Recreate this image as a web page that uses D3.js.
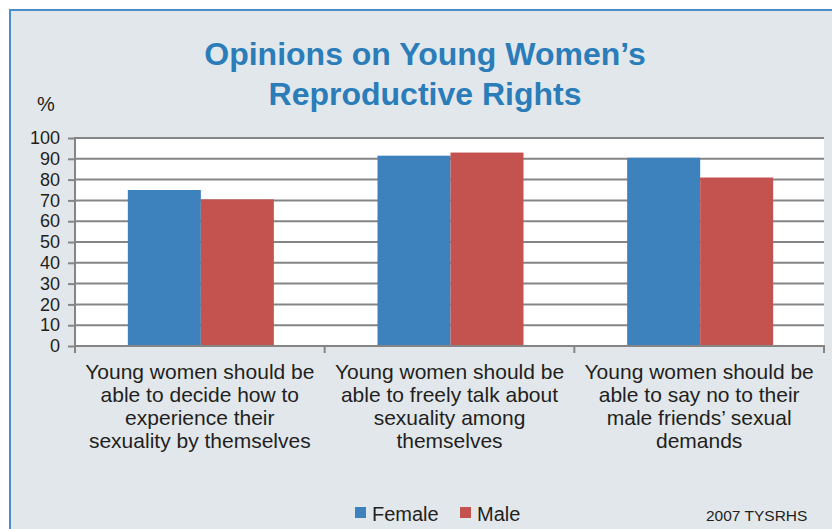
<!DOCTYPE html>
<html>
<head>
<meta charset="utf-8">
<script src="https://cdn.jsdelivr.net/npm/d3@7"></script>
<style>
html,body{margin:0;padding:0;background:#fff;}
svg{display:block;font-family:"Liberation Sans",Arial,Helvetica,sans-serif;}
</style>
</head>
<body>
<svg id="chart" width="832" height="529"></svg>
<script>
const categories = [
  ["Young women should be","able to decide how to","experience their","sexuality by themselves"],
  ["Young women should be","able to freely talk about","sexuality among","themselves"],
  ["Young women should be","able to say no to their","male friends\u2019 sexual","demands"]
];
const series = ["Female","Male"];
const femaleValues = [75, 91.5, 90.5];
const maleValues = [70.5, 93, 81];
const yTicks = [0,10,20,30,40,50,60,70,80,90,100];
const titleLines = ["Opinions on Young Women\u2019s","Reproductive Rights"];
const colors = {Female:"#3d81bd", Male:"#c4524f"};

(function(){
const svg = d3.select("#chart");
// panel background and border
svg.append("rect").attr("x",10).attr("y",10).attr("width",900).attr("height",600)
  .attr("fill","#e2e7ec").attr("stroke","#4a8fcb").attr("stroke-width",2);

const pLeft = 75, pRight = 824, pTop = 138, pBottom = 346;
const catIdx = categories.map((c,i)=>i);
const x0 = d3.scaleBand().domain(catIdx).range([pLeft,pRight]).padding(0);
const x1 = d3.scaleBand().domain(series).range([1,x0.bandwidth()+1]).paddingInner(0).paddingOuter(0.71);
const y = d3.scaleLinear().domain([0,100]).range([pBottom,pTop]);

// plot area
svg.append("rect").attr("x",pLeft).attr("y",pTop).attr("width",pRight-pLeft).attr("height",pBottom-pTop).attr("fill","#fff");

// gridlines
svg.append("g").selectAll("line").data(yTicks.filter(d=>d>0)).join("line")
  .attr("x1",pLeft).attr("x2",pRight).attr("y1",d=>y(d)).attr("y2",d=>y(d))
  .attr("stroke","#858585").attr("stroke-width",2);

// bars
const data = catIdx.map(i=>({i, vals:[{s:"Female",v:femaleValues[i]},{s:"Male",v:maleValues[i]}]}));
const g = svg.append("g").selectAll("g").data(data).join("g")
  .attr("transform",d=>`translate(${x0(d.i)},0)`);
g.selectAll("rect").data(d=>d.vals).join("rect")
  .attr("x",d=>x1(d.s)).attr("width",x1.bandwidth())
  .attr("y",d=>y(d.v)).attr("height",d=>y(0)-y(d.v))
  .attr("fill",d=>colors[d.s]);

// y axis
const yAxis = d3.axisLeft(y).tickValues(yTicks).tickSize(7).tickPadding(8).tickFormat(d3.format("d"));
const ya = svg.append("g").attr("transform",`translate(${pLeft},0)`).call(yAxis);
ya.select(".domain").attr("stroke","#858585").attr("stroke-width",2).attr("d",`M0,${pTop-1}V${pBottom+6}`);
ya.selectAll(".tick line").attr("stroke","#858585").attr("stroke-width",2);
ya.selectAll(".tick text").attr("font-size",18).attr("fill","#231f20").attr("font-family","Liberation Sans, Arial, sans-serif");

// x axis
svg.append("line").attr("x1",pLeft-1).attr("x2",pRight+1).attr("y1",pBottom).attr("y2",pBottom)
  .attr("stroke","#858585").attr("stroke-width",2);
const bounds = catIdx.map(i=>x0(i)).concat([pRight]);
svg.append("g").selectAll("line").data(bounds).join("line")
  .attr("x1",d=>d).attr("x2",d=>d).attr("y1",pBottom).attr("y2",pBottom+7)
  .attr("stroke","#858585").attr("stroke-width",2);

// category labels
const cl = svg.append("g").selectAll("text").data(catIdx).join("text")
  .attr("x",i=>x0(i)+x0.bandwidth()/2).attr("y",379)
  .attr("text-anchor","middle").attr("font-size",21).attr("fill","#231f20");
cl.selectAll("tspan").data(i=>categories[i]).join("tspan")
  .attr("x",function(){return d3.select(this.parentNode).attr("x");})
  .attr("dy",(d,j)=>j===0?0:23).text(d=>d);

// title
svg.append("text").attr("x",425).attr("y",65).attr("text-anchor","middle")
  .attr("font-size",32).attr("font-weight","bold").attr("fill","#2a7db9").text(titleLines[0]);
svg.append("text").attr("x",425).attr("y",105).attr("text-anchor","middle")
  .attr("font-size",32).attr("font-weight","bold").attr("fill","#2a7db9").text(titleLines[1]);

// % label
svg.append("text").attr("x",37).attr("y",111).attr("font-size",20).attr("fill","#231f20").text("%");

// legend
const legX = [355,460];
const lg = svg.append("g").selectAll("g").data(series).join("g")
  .attr("transform",(d,i)=>`translate(${legX[i]},0)`);
lg.append("rect").attr("x",0).attr("y",507).attr("width",11).attr("height",11).attr("fill",d=>colors[d]);
lg.append("text").attr("x",17).attr("y",521).attr("font-size",20).attr("fill","#231f20").text(d=>d);

// source
svg.append("text").attr("x",706).attr("y",521).attr("font-size",15.5).attr("fill","#231f20").text("2007 TYSRHS");
})();
</script>
</body>
</html>
